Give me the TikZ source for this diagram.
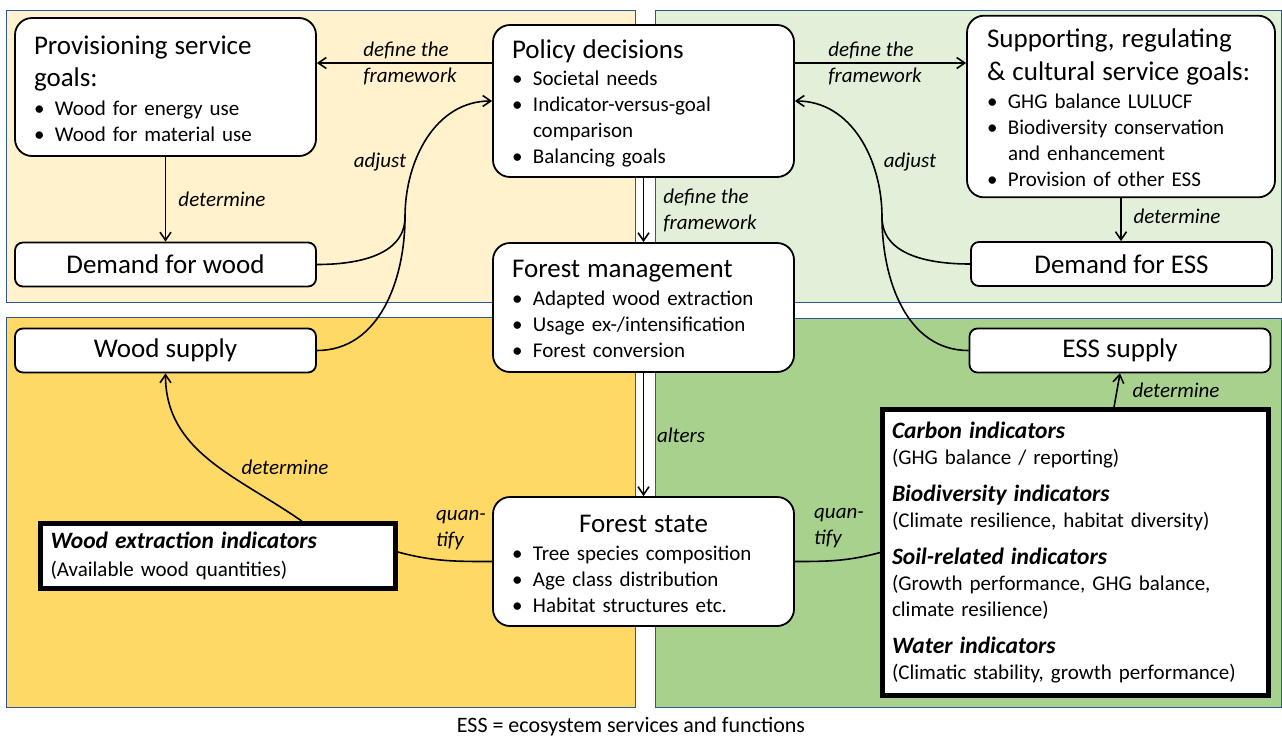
\documentclass[tikz,border=0pt]{standalone}
\usepackage{fontspec}
\setmainfont{Carlito}
\usetikzlibrary{arrows.meta}

\definecolor{provfill}{RGB}{255,242,204}
\definecolor{suppfill}{RGB}{226,240,217}
\definecolor{woodfill}{RGB}{255,217,102}
\definecolor{essfill}{RGB}{169,209,142}
\definecolor{panelline}{RGB}{47,85,151}

\newcommand{\titlefont}{\fontsize{27}{32}\selectfont}
\newcommand{\boxtitle}[2]{\rule{0pt}{#1}\smash{\titlefont #2}}
\newcommand{\botstrut}{\rule[-8pt]{0pt}{8pt}}
\newcommand{\bu}{\makebox[21pt][l]{\textbullet}}
\newcommand{\hang}{\hspace*{21pt}}
\newcommand{\indhead}[1]{{\fontsize{23.5}{26}\selectfont\bfseries\itshape #1}}

\tikzset{
  panel/.style={draw=panelline, line width=0.9pt},
  goalbox/.style={draw, fill=white, rounded corners=17pt, line width=1.8pt,
    align=left, inner xsep=0pt, font=\fontsize{21}{26}\selectfont},
  flatbox/.style={draw, fill=white, rounded corners=8pt, line width=1.8pt,
    minimum width=301pt, minimum height=44pt, font=\fontsize{27}{32}\selectfont},
  indicbox/.style={draw, fill=white, line width=4.5pt, align=left,
    inner xsep=0pt, font=\fontsize{21}{26}\selectfont},
  conn/.style={line width=1.6pt},
  lbl/.style={font=\fontsize{21}{26}\selectfont\itshape, align=left, inner sep=0pt},
  >={Straight Barb[length=8pt,width=11pt]}
}

\begin{document}
\begin{tikzpicture}[x=1pt, y=-1pt]
  \useasboundingbox (0,0) rectangle (1282,737);

  % background panels
  \draw[panel, fill=provfill] (6,10) rectangle (635,302);
  \draw[panel, fill=suppfill] (655,10) rectangle (1281,302);
  \draw[panel, fill=woodfill] (6,317) rectangle (635,707);
  \draw[panel, fill=essfill] (655,318) rectangle (1281,707);

  % goal and decision boxes
  \node[goalbox, minimum width=301pt, minimum height=138pt, text width=263pt] (prov) at (165.5,87)
    {\boxtitle{29pt}{Provisioning service}\\[6pt]{\titlefont goals:}\\[3pt]
     \bu Wood for energy use\\
     \bu Wood for material use\botstrut};
  \node[goalbox, minimum width=301pt, minimum height=152pt, text width=263pt] (policy) at (643.5,101)
    {\boxtitle{27pt}{Policy decisions}\\[1pt]
     \bu Societal needs\\
     \bu Indicator-versus-goal\\
     \hang comparison\\
     \bu Balancing goals\botstrut};
  \node[goalbox, minimum width=308pt, minimum height=177pt, text width=268pt] (supp) at (1121,106.5)
    {\boxtitle{28pt}{Supporting, regulating}\\[7pt]{\titlefont\&~cultural service goals:}\\[2pt]
     \bu GHG balance LULUCF\\
     \bu Biodiversity conservation\\
     \hang and enhancement\\
     \bu Provision of other ESS\botstrut};
  \node[goalbox, minimum width=301pt, minimum height=129pt, text width=263pt] (fmgmt) at (643.5,307.5)
    {\boxtitle{27pt}{Forest management}\\[2pt]
     \bu Adapted wood extraction\\
     \bu Usage ex-/intensification\\
     \bu Forest conversion\botstrut};
  \node[goalbox, minimum width=301pt, minimum height=129pt, text width=263pt] (fstate) at (643.5,561.5)
    {\rule{0pt}{29pt}\hbox to\hsize{\hfil\smash{\titlefont Forest state}\hfil}\\[2pt]
     \bu Tree species composition\\
     \bu Age class distribution\\
     \bu Habitat structures etc.\botstrut};

  % demand and supply
  \node[flatbox] (dwood) at (165.5,264.5) {Demand for wood};
  \node[flatbox] (dess) at (1121.5,264) {Demand for ESS};
  \node[flatbox] (wsupply) at (165.5,350.5) {Wood supply};
  \node[flatbox] (esupply) at (1120,350.5) {ESS supply};

  % indicators
  \node[indicbox, minimum width=355pt, minimum height=65pt, text width=335pt] (wei) at (218,556)
    {\indhead{Wood extraction indicators}\\[2pt]
     (Available wood quantities)};
  \node[indicbox, minimum width=386pt, minimum height=286pt, text width=367pt] (indic) at (1075.5,552.5)
    {\indhead{Carbon indicators}\\
     (GHG balance / reporting)\\[11pt]
     \indhead{Biodiversity indicators}\\
     (Climate resilience, habitat diversity)\\[11pt]
     \indhead{Soil-related indicators}\\
     (Growth performance, GHG balance,\\
     climate resilience)\\[11pt]
     \indhead{Water indicators}\\
     (Climatic stability, growth performance)};

  % labels
  \node[lbl] (dfl) at (410,63) {define the\\framework};
  \node[lbl] (dfr) at (875,63) {define the\\framework};
  \node[lbl] (dfm) at (710,210) {define the\\framework};
  \node[lbl] (adl) at (380,162) {adjust};
  \node[lbl] (adr) at (910,162) {adjust};
  \node[lbl] (detl) at (222,199) {determine};
  \node[lbl] (detr) at (1177,216) {determine};
  \node[lbl] (detws) at (285,467) {determine};
  \node[lbl] (dete) at (1176,390) {determine};
  \node[lbl] (alt) at (681,435) {alters};
  \node[lbl] (qtl) at (461,530) {quan-\\tify};
  \node[lbl] (qtr) at (839,528) {quan-\\tify};
  \node[font=\fontsize{22}{26}\selectfont] (note) at (631,727) {ESS = ecosystem services and functions};

  % connectors
  \coordinate (jl) at (405,217);
  \coordinate (jr) at (882,217);
  \draw[conn,->] ([yshift=38pt]policy.west) -- ([yshift=24pt]prov.east);
  \draw[conn,->] ([yshift=38pt]policy.east) -- ([yshift=43.5pt]supp.west);
  \draw[conn,->] (prov) -- (dwood);
  \draw[conn,->] (supp.south) -- (supp.south |- dess.north);
  \draw[conn,->] (policy) -- (fmgmt);
  \draw[conn,->] (fmgmt) -- (fstate);
  \draw[conn] (dwood.east) to[out=0,in=-90] (jl);
  \draw[conn] (wsupply.east) to[out=0,in=-90] (jl);
  \draw[conn,->] (jl) to[out=90,in=180] (policy.west);
  \draw[conn] (dess.west) to[out=180,in=-90] (jr);
  \draw[conn] (esupply.west) to[out=180,in=-90] (jr);
  \draw[conn,->] (jr) to[out=90,in=0] (policy.east);
  \draw[conn,->] ([xshift=84pt]wei.north) to[out=145,in=-90] (wsupply.south);
  \draw[conn] (fstate.west) to[out=180,in=-15] ([yshift=4pt]wei.east);
  \draw[conn] (fstate.east) to[out=0,in=195] (indic.west);
  \draw[conn,->] ([xshift=38.5pt]indic.north) -- (esupply.south);
\end{tikzpicture}
\end{document}
